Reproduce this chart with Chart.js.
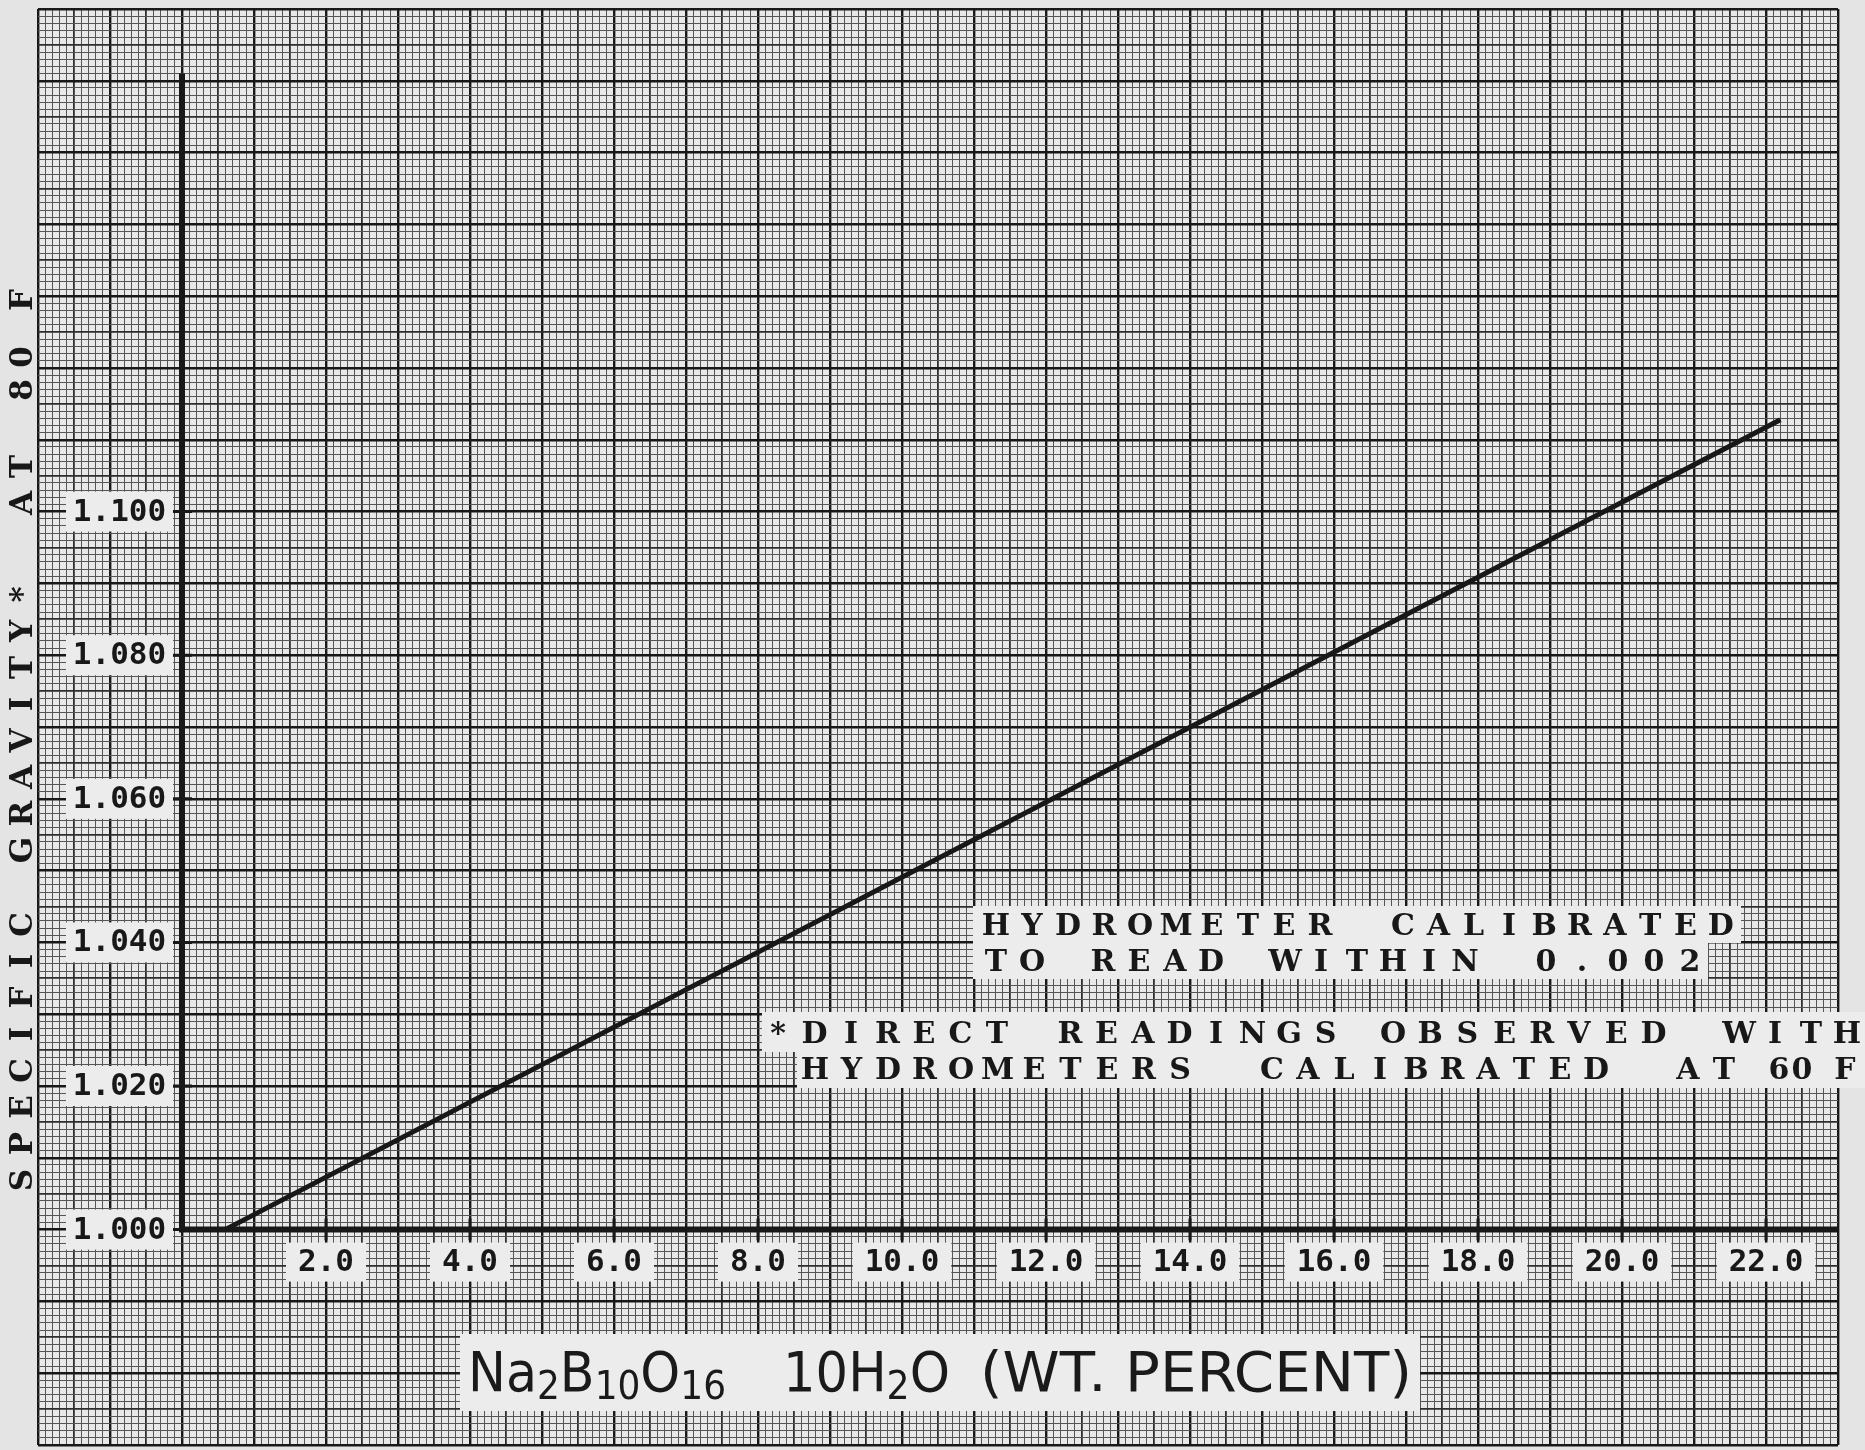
<!DOCTYPE html>
<html>
<head>
<meta charset="utf-8">
<script src="https://cdn.jsdelivr.net/npm/chart.js@4.4.1/dist/chart.umd.min.js"></script>
<style>
  html, body { margin: 0; padding: 0; background: #e4e4e4; }
  canvas { display: block; }
</style>
</head>
<body>
<canvas id="sgChart" width="1865" height="1450"></canvas>
<script>
// curve (wt. percent -> specific gravity)
const wtPercent = [0.6, 22.2];
const specGravity = [1.000, 1.1128];

// labelled ticks
const xTickValues = [2, 4, 6, 8, 10, 12, 14, 16, 18, 20, 22];
const xTickLabels = ['2.0', '4.0', '6.0', '8.0', '10.0', '12.0', '14.0', '16.0', '18.0', '20.0', '22.0'];
const yTickValues = [1.000, 1.020, 1.040, 1.060, 1.080, 1.100];
const yTickLabels = ['1.000', '1.020', '1.040', '1.060', '1.080', '1.100'];

// how far the drawn axes run
const xAxisEnd = 23.0;
const yAxisEnd = 1.161;

const INK = '#181818';
const STRIP = '#ececec';

// graph paper: heavy every 10 cells, medium every 5
function gridStyle(mult) {
  return {
    color: (c) => {
      const n = Math.abs(Math.round(c.tick.value * mult));
      return n % 10 === 0 ? '#181818' : n % 5 === 0 ? '#2e2e2e' : '#555555';
    },
    lineWidth: (c) => {
      const n = Math.abs(Math.round(c.tick.value * mult));
      return n % 10 === 0 ? 2.4 : n % 5 === 0 ? 1.8 : 1;
    }
  };
}

// typewriter: one glyph per fixed pitch
function typeRun(ctx, text, x0, y, pitch, vertical) {
  for (let i = 0; i < text.length; i++) {
    if (vertical) {
      ctx.save();
      ctx.translate(x0, y - i * pitch);
      ctx.rotate(-Math.PI / 2);
      ctx.fillText(text[i], 0, 0);
      ctx.restore();
    } else {
      ctx.fillText(text[i], x0 + i * pitch, y);
    }
  }
}

function strip(ctx, pts) {
  ctx.beginPath();
  ctx.moveTo(pts[0][0], pts[0][1]);
  for (let i = 1; i < pts.length; i++) ctx.lineTo(pts[i][0], pts[i][1]);
  ctx.closePath();
  ctx.fill();
}

// lettered formula group squeezed into [x0, x1]
function letterGroup(ctx, parts, x0, x1, base) {
  const big = '400 55px "DejaVu Sans"';
  const small = '400 39px "DejaVu Sans"';
  let w = 0;
  parts.forEach(([t, sub]) => { ctx.font = sub ? small : big; w += ctx.measureText(t).width; });
  ctx.save();
  ctx.translate(x0, base);
  ctx.scale((x1 - x0) / w, 1);
  let cx = 0;
  parts.forEach(([t, sub]) => {
    ctx.font = sub ? small : big;
    ctx.fillText(t, cx, sub ? 8 : 0);
    cx += ctx.measureText(t).width;
  });
  ctx.restore();
}

const paperPlugin = {
  id: 'paper',
  beforeDraw: (chart) => {
    const { ctx, chartArea: a } = chart;
    ctx.save();
    ctx.fillStyle = '#e4e4e4';
    ctx.fillRect(0, 0, chart.width, chart.height);
    ctx.fillStyle = '#e8e8e8';
    ctx.fillRect(a.left, a.top, a.right - a.left, a.bottom - a.top);
    ctx.restore();
  }
};

const overlayPlugin = {
  id: 'overlay',
  afterDatasetsDraw: (chart) => {
    const { ctx } = chart;
    const x = chart.scales.x, y = chart.scales.y;
    const px = v => x.getPixelForValue(v);
    const py = v => y.getPixelForValue(v);
    const ox = px(0), oy = py(1.0);
    ctx.save();

    // axes
    ctx.strokeStyle = INK;
    ctx.lineWidth = 6;
    ctx.beginPath();
    ctx.moveTo(ox, py(yAxisEnd));
    ctx.lineTo(ox, oy);
    ctx.lineTo(px(xAxisEnd), oy);
    ctx.stroke();

    // tick marks
    ctx.lineWidth = 3;
    ctx.beginPath();
    xTickValues.forEach(v => { ctx.moveTo(px(v), oy - 11); ctx.lineTo(px(v), oy + 11); });
    yTickValues.forEach(v => { ctx.moveTo(ox - 9, py(v)); ctx.lineTo(ox + 10, py(v)); });
    ctx.stroke();

    // tick label strips
    ctx.font = '700 31px "DejaVu Sans Mono"';
    ctx.textAlign = 'center';
    ctx.textBaseline = 'middle';
    yTickValues.forEach((v, i) => {
      const right = ox - 9, w = 107, yy = py(v);
      ctx.fillStyle = STRIP;
      ctx.fillRect(right - w, yy - 20, w, 40);
      ctx.fillStyle = INK;
      ctx.fillText(yTickLabels[i], right - w / 2, yy + 1);
    });
    xTickValues.forEach((v, i) => {
      const w = ctx.measureText(xTickLabels[i]).width + 24, xx = px(v), top = oy + 13;
      ctx.fillStyle = STRIP;
      ctx.fillRect(xx - w / 2, top, w, 39);
      ctx.fillStyle = INK;
      ctx.fillText(xTickLabels[i], xx, top + 20);
    });

    // note strips
    ctx.fillStyle = STRIP;
    strip(ctx, [[973, 906], [1741, 906], [1741, 943], [1708, 943], [1708, 979], [973, 979]]);
    strip(ctx, [[762, 1012], [1865, 1012], [1865, 1088], [797, 1088], [797, 1052], [762, 1052]]);
    strip(ctx, [[460, 1334], [1420, 1334], [1420, 1411], [460, 1411]]);

    ctx.fillStyle = INK;
    ctx.font = '700 30px "DejaVu Serif"';
    typeRun(ctx, 'HYDROMETER', 996, 927, 36);
    typeRun(ctx, 'CALIBRATED', 1403, 927, 35.3);
    typeRun(ctx, 'TO', 996, 963, 36);
    typeRun(ctx, 'READ', 1103, 963, 36);
    typeRun(ctx, 'WITHIN', 1285, 963, 36);
    typeRun(ctx, '0.002', 1546, 963, 36);

    typeRun(ctx, '*DIRECT', 778, 1035, 36.5);
    typeRun(ctx, 'READINGS', 1070, 1035, 36.5);
    typeRun(ctx, 'OBSERVED', 1393, 1035, 37.2);
    typeRun(ctx, 'WITH', 1739, 1035, 36);
    typeRun(ctx, 'HYDROMETERS', 815, 1071, 36.5);
    typeRun(ctx, 'CALIBRATED', 1272, 1071, 36);
    typeRun(ctx, 'AT', 1688, 1071, 36);
    typeRun(ctx, '60', 1779, 1071, 23);
    typeRun(ctx, 'F', 1845, 1071, 36);

    // y axis title, typed sideways
    ctx.font = '700 31px "DejaVu Serif"';
    typeRun(ctx, 'SPECIFIC', 24, 1180, 36.5, true);
    typeRun(ctx, 'GRAVITY*', 24, 850, 36.5, true);
    typeRun(ctx, 'AT', 24, 503, 36.5, true);
    typeRun(ctx, '80', 24, 390, 33, true);
    typeRun(ctx, 'F', 24, 300, 36.5, true);

    // x axis title, hand lettered
    ctx.textAlign = 'left';
    ctx.textBaseline = 'alphabetic';
    ctx.fillStyle = '#1a1a1a';
    letterGroup(ctx, [['N', false], ['a', false], ['2', true], ['B', false], ['10', true], ['O', false], ['16', true]], 468, 726, 1391);
    letterGroup(ctx, [['10', false], ['H', false], ['2', true], ['O', false]], 783, 950, 1391);
    letterGroup(ctx, [['(WT. PERCENT)', false]], 980, 1412, 1391);

    ctx.restore();
  }
};

new Chart(document.getElementById('sgChart').getContext('2d'), {
  type: 'scatter',
  data: {
    datasets: [{
      data: wtPercent.map((v, i) => ({ x: v, y: specGravity[i] })),
      showLine: true,
      borderColor: INK,
      borderWidth: 5,
      pointRadius: 0,
      fill: false
    }]
  },
  options: {
    responsive: false,
    animation: false,
    events: [],
    layout: { padding: { left: 38, right: 27, top: 9, bottom: 5 } },
    plugins: { legend: { display: false }, tooltip: { enabled: false } },
    scales: {
      x: {
        type: 'linear', min: -2, max: 23,
        ticks: { display: false, stepSize: 0.1 },
        border: { display: false },
        grid: Object.assign({ drawTicks: false }, gridStyle(10))
      },
      y: {
        type: 'linear', min: 0.970, max: 1.170,
        ticks: { display: false, stepSize: 0.001 },
        border: { display: false },
        grid: Object.assign({ drawTicks: false }, gridStyle(1000))
      }
    }
  },
  plugins: [paperPlugin, overlayPlugin]
});
</script>
</body>
</html>
